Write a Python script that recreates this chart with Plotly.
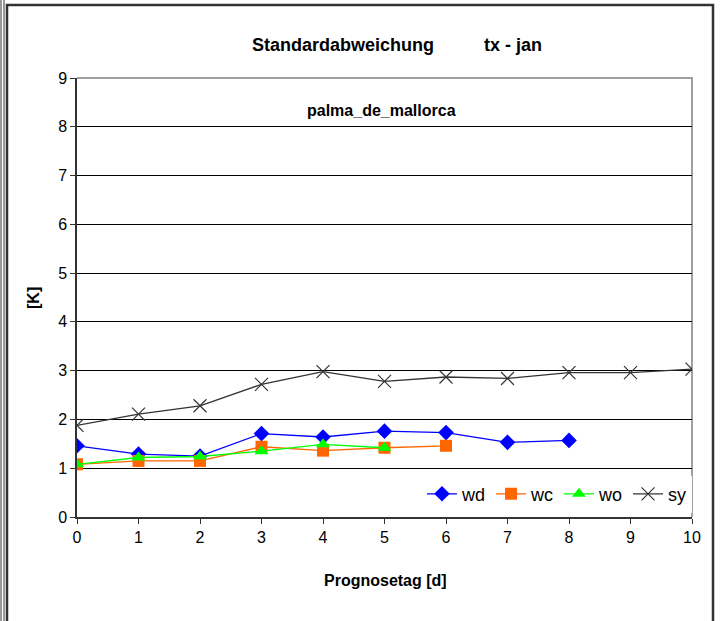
import plotly.graph_objects as go

days = [0, 1, 2, 3, 4, 5, 6, 7, 8, 9, 10]
wd = [1.46, 1.29, 1.25, 1.71, 1.64, 1.76, 1.73, 1.53, 1.57]
wc = [1.08, 1.15, 1.15, 1.44, 1.36, 1.42, 1.46]
wo = [1.08, 1.22, 1.24, 1.35, 1.49, 1.42]
sy = [1.88, 2.11, 2.28, 2.72, 2.98, 2.78, 2.87, 2.84, 2.96, 2.96, 3.03]

title_text = "Standardabweichung&nbsp;&nbsp;&nbsp;&nbsp;&nbsp;&nbsp;&nbsp;&nbsp;&nbsp;&nbsp;tx - jan"
subtitle_text = "palma_de_mallorca"
x_title = "Prognosetag [d]"
y_title = "[K]"
y_ticks = [0, 1, 2, 3, 4, 5, 6, 7, 8, 9]

W, H = 722, 621
L, R, T, B = 77, 692, 78, 517
FONT = "Liberation Sans, Arial, sans-serif"


def px(x):
    return (x - L) / (R - L)


def py(y):
    return (B - y) / (B - T)


fig = go.Figure()
fig.add_trace(go.Scatter(x=days[:len(wd)], y=wd, name="wd", mode="lines+markers",
                         line=dict(color="#0000ff", width=1.3),
                         marker=dict(symbol="diamond", size=12, color="#0000ff")))
fig.add_trace(go.Scatter(x=days[:len(wc)], y=wc, name="wc", mode="lines+markers",
                         line=dict(color="#ff6600", width=1.3),
                         marker=dict(symbol="square", size=12, color="#ff6600")))
fig.add_trace(go.Scatter(x=days[:len(wo)], y=wo, name="wo", mode="lines+markers",
                         line=dict(color="#00ff00", width=1.3),
                         marker=dict(symbol="triangle-up", size=12, color="#00ff00")))
fig.add_trace(go.Scatter(x=days, y=sy, name="sy", mode="lines+markers",
                         line=dict(color="#333333", width=1.3),
                         marker=dict(symbol="x-thin-open", size=13,
                                     line=dict(color="#333333", width=1.2))))

shapes = []
for xx in [1, 4]:
    shapes.append(dict(type="line", xref="paper", yref="paper",
                       x0=px(xx), x1=px(xx), y0=py(0), y1=py(H + 5),
                       line=dict(color="#333333", width=1)))
shapes.append(dict(type="path", xref="paper", yref="paper",
                   path=f"M {px(7)} {py(H + 5)} L {px(7)} {py(5)} L {px(713)} {py(5)} L {px(713)} {py(H + 5)}",
                   line=dict(color="#333333", width=2.5)))
shapes.append(dict(type="path", xref="paper", yref="paper", layer="below",
                   path="M 0 1 L 1 1 L 1 0",
                   line=dict(color="#a0a0a0", width=2)))


def ann(text, x, y, size, angle=0):
    return dict(text=f"<b>{text}</b>", x=px(x), y=py(y), xref="paper", yref="paper",
                xanchor="center", yanchor="middle", showarrow=False, textangle=angle,
                font=dict(family=FONT, size=size, color="black"))


annotations = [
    ann(title_text, 397, 45, 18),
    ann(subtitle_text, 381, 110, 16),
    ann(x_title, 385, 580, 16),
    ann(y_title, 33, 298, 16, -90),
]

fig.update_layout(
    width=W, height=H,
    margin=dict(l=L, r=W - R, t=T, b=H - B, pad=0),
    paper_bgcolor="white", plot_bgcolor="white",
    font=dict(family=FONT, size=16, color="black"),
    showlegend=True,
    legend=dict(orientation="h", x=1, xanchor="right", y=0.01, yanchor="bottom",
                bgcolor="white", font=dict(family=FONT, size=18, color="black"),
                borderwidth=0, tracegroupgap=0),
    shapes=shapes,
    annotations=annotations,
    xaxis=dict(range=[0, 10], tickvals=days, showgrid=False, zeroline=False,
               showline=True, linecolor="#333333", linewidth=1.5,
               ticks="outside", ticklen=5, tickcolor="#333333", tickwidth=1,
               tickfont=dict(size=16), fixedrange=True),
    yaxis=dict(range=[0, 9], tickvals=y_ticks, showgrid=True, gridcolor="black",
               gridwidth=1, zeroline=False, showline=True, linecolor="#333333",
               linewidth=1.5, ticks="outside", ticklen=5, tickcolor="#333333",
               tickwidth=1, tickfont=dict(size=16), fixedrange=True),
)

fig.write_html("out.html", config={"displayModeBar": False},
               post_script="document.body.style.margin='0';")
